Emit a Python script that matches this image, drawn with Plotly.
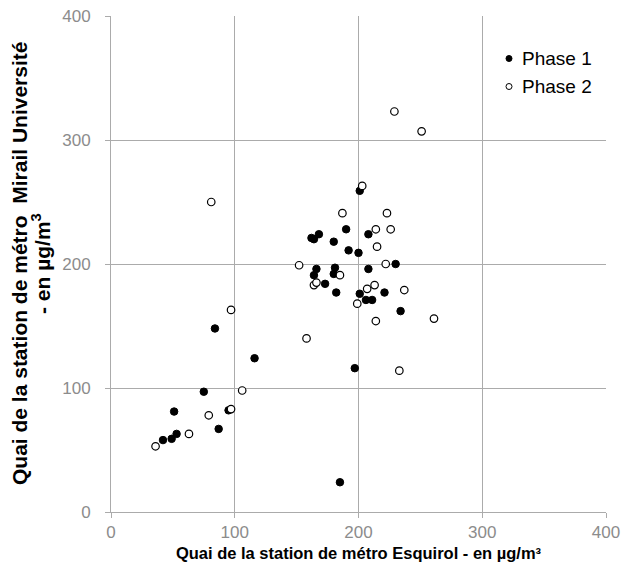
import plotly.graph_objects as go

# Phase 1 measurements (µg/m³): Esquirol platform vs Mirail Université platform
phase1_esquirol = [84, 116, 75, 51, 95, 87, 53, 49, 42,
                   201, 190, 208, 168, 162, 164, 180, 192, 200, 230, 166,
                   181, 208, 164, 180, 173, 182, 201, 221, 206, 211, 234, 197, 185]
phase1_mirail = [148, 124, 97, 81, 82, 67, 63, 59, 58,
                 259, 228, 224, 224, 221, 220, 218, 211, 209, 200, 196,
                 197, 196, 191, 192, 184, 177, 176, 177, 171, 171, 162, 116, 24]

# Phase 2 measurements (µg/m³)
phase2_esquirol = [97, 106, 79, 97, 63, 36, 81, 203, 187, 223, 214, 226, 215, 152,
                   222, 185, 164, 166, 207, 213, 237, 199, 214, 261, 158, 233, 229, 251]
phase2_mirail = [163, 98, 78, 83, 63, 53, 250, 263, 241, 241, 228, 228, 214, 199,
                 200, 191, 183, 185, 180, 183, 179, 168, 154, 156, 140, 114, 323, 307]

series_names = ["Phase 1", "Phase 2"]
tick_values = [0, 100, 200, 300, 400]

FONT = "Liberation Sans, Arial, sans-serif"
GRID = "#ababab"
TICK_TEXT = "#8c8c8c"

W, H = 624, 585
M_L, M_R, M_T, M_B = 111, 18, 16, 73
PLOT_W = W - M_L - M_R
PLOT_H = H - M_T - M_B


def px_x(px):
    """Horizontal pixel position -> paper coordinate."""
    return (px - M_L) / PLOT_W


def px_y(py):
    """Vertical pixel position -> paper coordinate."""
    return (H - M_B - py) / PLOT_H


fig = go.Figure()
fig.add_trace(go.Scatter(
    x=phase1_esquirol, y=phase1_mirail, mode="markers", name=series_names[0],
    marker=dict(size=7.5, color="black", line=dict(color="black", width=1)),
    showlegend=False,
))
fig.add_trace(go.Scatter(
    x=phase2_esquirol, y=phase2_mirail, mode="markers", name=series_names[1],
    marker=dict(size=7.5, color="white", line=dict(color="black", width=1.2)),
    showlegend=False,
))

axis_common = dict(
    range=[0, 400], tickvals=tick_values, showgrid=True, gridcolor=GRID, gridwidth=1,
    showline=True, linecolor=GRID, linewidth=1, zeroline=False, automargin=False,
    ticks="outside", ticklen=5, tickcolor=GRID,
    tickfont=dict(family=FONT, size=17, color=TICK_TEXT),
)

fig.update_layout(
    width=W, height=H,
    margin=dict(l=M_L, r=M_R, t=M_T, b=M_B),
    plot_bgcolor="white", paper_bgcolor="white",
    font=dict(family=FONT),
    showlegend=False,
    xaxis=dict(
        **axis_common, ticklabelstandoff=0,
        title=dict(text="Quai de la station de métro Esquirol - en µg/m³",
                   font=dict(family=FONT, size=16.5, color="black", weight="bold"),
                   standoff=6),
    ),
    yaxis=dict(**axis_common, ticklabelstandoff=11),
)

# Vertical axis title, two lines
y_title_lines = ["Quai de la station de métro  Mirail Université", "- en µg/m<sup>3</sup>"]
for text, xpix in zip(y_title_lines, [19, 41]):
    fig.add_annotation(
        text=text, textangle=-90, xref="paper", yref="paper",
        x=px_x(xpix), y=0.5, xanchor="center", yanchor="middle", showarrow=False,
        font=dict(family=FONT, size=21, color="black", weight="bold"),
    )

# Legend: marker symbols with their series labels
legend_rows = [58.5, 86.5]
legend_fill = ["black", "white"]
for name, row, fill in zip(series_names, legend_rows, legend_fill):
    fig.add_shape(
        type="circle", xref="paper", yref="paper",
        xsizemode="pixel", ysizemode="pixel",
        xanchor=px_x(509), yanchor=px_y(row),
        x0=-3, x1=3, y0=-3, y1=3,
        fillcolor=fill, line=dict(color="black", width=1),
    )
    fig.add_annotation(
        text=name, xref="paper", yref="paper",
        x=px_x(520), y=px_y(row), xanchor="left", yanchor="middle", showarrow=False,
        font=dict(family=FONT, size=19, color="black"),
    )

fig.write_html("out.html")
